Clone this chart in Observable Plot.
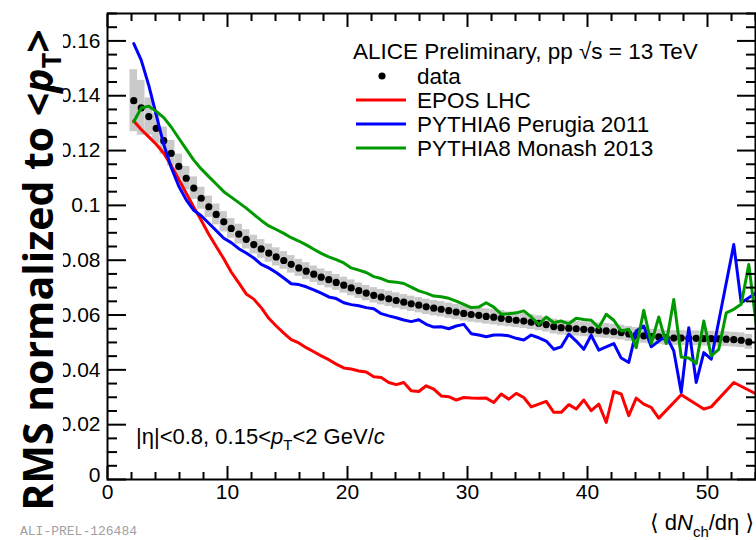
<!DOCTYPE html>
<html>
<head>
<meta charset="utf-8">
<script src="https://cdn.jsdelivr.net/npm/d3@7"></script>
<script src="https://cdn.jsdelivr.net/npm/@observablehq/plot@0.6"></script>
<style>
  body { margin: 0; background: #fff; }
  #chart { width: 756px; height: 540px; overflow: hidden; }
</style>
</head>
<body>
<div id="chart"></div>
<script>
// Multiplicity bins: <dNch/deta> bin centres (bin width 0.625)
const nchBins = [
  2.19, 2.81, 3.44, 4.06, 4.69, 5.31, 5.94, 6.56, 7.19, 7.81,
  8.44, 9.06, 9.69, 10.31, 10.94, 11.56, 12.19, 12.81, 13.44, 14.06,
  14.69, 15.31, 15.94, 16.56, 17.19, 17.81, 18.44, 19.06, 19.69, 20.31,
  20.94, 21.56, 22.19, 22.81, 23.44, 24.06, 24.69, 25.31, 25.94, 26.56,
  27.19, 27.81, 28.44, 29.06, 29.69, 30.31, 30.94, 31.56, 32.19, 32.81,
  33.44, 34.06, 34.69, 35.31, 35.94, 36.56, 37.19, 37.81, 38.44, 39.06,
  39.69, 40.31, 40.94, 41.56, 42.19, 42.81, 43.44, 44.06, 44.69, 45.31,
  45.94, 46.56, 47.19, 47.81, 48.44, 49.06, 49.69, 50.31, 50.94, 51.56,
  52.19, 52.81, 53.44, 54.06
];
const binHalfWidth = 0.3125;

// Measured RMS / <pT>
const dataRms = [
  0.1382, 0.1356, 0.1324, 0.1281, 0.1236, 0.1190, 0.1142, 0.1099, 0.1063, 0.1026,
  0.0995, 0.0967, 0.0940, 0.0916, 0.0895, 0.0876, 0.0857, 0.0841, 0.0826, 0.0812,
  0.0799, 0.0785, 0.0772, 0.0760, 0.0749, 0.0738, 0.0729, 0.0719, 0.0709, 0.0699,
  0.0689, 0.0680, 0.0672, 0.0665, 0.0659, 0.0653, 0.0647, 0.0641, 0.0636, 0.0630,
  0.0625, 0.0621, 0.0616, 0.0611, 0.0606, 0.0602, 0.0599, 0.0595, 0.0592, 0.0588,
  0.0584, 0.0581, 0.0578, 0.0574, 0.0570, 0.0565, 0.0558, 0.0554, 0.0552, 0.0550,
  0.0548, 0.0545, 0.0544, 0.0542, 0.0539, 0.0536, 0.0531, 0.0527, 0.0524, 0.0521,
  0.0520, 0.0517, 0.0516, 0.0516, 0.0515, 0.0515, 0.0514, 0.0514, 0.0513, 0.0512,
  0.0510, 0.0508, 0.0502
];
// Systematic uncertainty (half height of grey boxes)
const dataSyst = [
  0.0113, 0.0100, 0.0068, 0.0056, 0.0050, 0.0047, 0.0045, 0.0043, 0.0041, 0.0040,
  0.0039, 0.0038, 0.0037, 0.0036, 0.0036, 0.0035, 0.0034, 0.0034, 0.0033, 0.0033,
  0.0032, 0.0032, 0.0031, 0.0031, 0.0030, 0.0030, 0.0030, 0.0029, 0.0029, 0.0029,
  0.0028, 0.0028, 0.0028, 0.0028, 0.0028, 0.0028, 0.0028, 0.0028, 0.0028, 0.0028,
  0.0028, 0.0028, 0.0028, 0.0028, 0.0028, 0.0028, 0.0028, 0.0028, 0.0028, 0.0028,
  0.0027, 0.0027, 0.0027, 0.0027, 0.0027, 0.0027, 0.0027, 0.0027, 0.0027, 0.0027,
  0.0027, 0.0027, 0.0027, 0.0027, 0.0027, 0.0027, 0.0027, 0.0027, 0.0027, 0.0027,
  0.0027, 0.0027, 0.0027, 0.0027, 0.0027, 0.0027, 0.0027, 0.0027, 0.0027, 0.0027,
  0.0027, 0.0027, 0.0027
];

// Model predictions (null = empty bin)
const eposLHC = [
  0.1308, 0.1277, 0.1250, 0.1223, 0.1190, 0.1145, 0.1095, 0.1044, 0.0993, 0.0946,
  0.0895, 0.0850, 0.0805, 0.0757, 0.0717, 0.0677, 0.0658, 0.0627, 0.0588, 0.0560,
  0.0534, 0.0510, 0.0498, 0.0481, 0.0466, 0.0451, 0.0437, 0.0421, 0.0407, 0.0403,
  0.0396, 0.0392, 0.0375, 0.0372, 0.0354, 0.0346, 0.0354, 0.0324, 0.0321, 0.0342,
  0.0330, 0.0305, 0.0302, 0.0290, 0.0299, 0.0297, 0.0296, 0.0297, 0.0281, 0.0312,
  0.0293, 0.0314, 0.0299, 0.0265, 0.0275, 0.0285, 0.0245, 0.0245, 0.0273, 0.0257,
  0.0290, 0.0251, 0.0275, 0.0208, 0.0321, 0.0312, 0.0233, 0.0297, 0.0275, 0.0263,
  0.0224, null, null, 0.0309, null, null, 0.0257, 0.0265, null, null,
  0.0354, null, null, 0.0312
];
const pythia6Perugia = [
  0.1590, 0.1530, 0.1438, 0.1330, 0.1222, 0.1138, 0.1070, 0.1020, 0.0982, 0.0962,
  0.0935, 0.0908, 0.0880, 0.0864, 0.0842, 0.0826, 0.0808, 0.0785, 0.0772, 0.0755,
  0.0735, 0.0714, 0.0711, 0.0703, 0.0692, 0.0680, 0.0666, 0.0660, 0.0645, 0.0638,
  0.0634, 0.0627, 0.0623, 0.0605, 0.0597, 0.0590, 0.0582, 0.0576, 0.0583, 0.0566,
  0.0556, 0.0557, 0.0550, 0.0560, 0.0566, 0.0532, 0.0527, 0.0521, 0.0527, 0.0527,
  0.0524, 0.0515, 0.0509, 0.0527, 0.0517, 0.0505, 0.0475, 0.0484, 0.0530, 0.0505,
  0.0475, 0.0526, 0.0472, 0.0484, 0.0496, 0.0443, 0.0427, 0.0542, 0.0560, 0.0484,
  0.0505, 0.0524, 0.0469, 0.0318, 0.0554, 0.0354, 0.0463, 0.0439, 0.0578, null,
  0.0857, 0.0645, 0.0663, 0.0681
];
const pythia8Monash = [
  0.1305, 0.1355, 0.1362, 0.1343, 0.1320, 0.1286, 0.1245, 0.1205, 0.1165, 0.1133,
  0.1105, 0.1078, 0.1050, 0.1030, 0.1010, 0.0990, 0.0967, 0.0945, 0.0925, 0.0912,
  0.0898, 0.0882, 0.0870, 0.0856, 0.0840, 0.0825, 0.0812, 0.0802, 0.0790, 0.0772,
  0.0764, 0.0755, 0.0740, 0.0733, 0.0722, 0.0720, 0.0715, 0.0702, 0.0688, 0.0680,
  0.0669, 0.0667, 0.0661, 0.0651, 0.0639, 0.0627, 0.0629, 0.0645, 0.0629, 0.0603,
  0.0605, 0.0608, 0.0615, 0.0593, 0.0566, 0.0593, 0.0572, 0.0578, 0.0568, 0.0588,
  0.0584, 0.0581, 0.0554, 0.0603, 0.0581, 0.0542, 0.0548, 0.0481, 0.0617, 0.0496,
  0.0593, 0.0496, 0.0657, 0.0447, 0.0443, 0.0423, 0.0578, 0.0451, 0.0475, 0.0608,
  0.0621, 0.0639, 0.0784, 0.0566
];

const seriesNames = ["EPOS LHC", "PYTHIA6 Perugia 2011", "PYTHIA8 Monash 2013"];
const seriesColors = ["#ff0000", "#0000ff", "#009900"];

// Axis ticks
const xMajorTicks = [0, 10, 20, 30, 40, 50];
const xMinorTicks = d3.range(0, 55, 2).filter(v => v % 10 !== 0);
const yMajorTicks = [0, 0.02, 0.04, 0.06, 0.08, 0.1, 0.12, 0.14, 0.16];
const yMinorTicks = d3.range(0, 35).filter(k => k % 4 !== 0).map(k => +(k * 0.005).toFixed(3));

const points = dataRms.map((y, i) => ({x: nchBins[i], y, e: dataSyst[i]}));
const toSeries = vals => nchBins.map((x, i) => ({x, y: vals[i]})).filter(d => d.y != null);
const models = [eposLHC, pythia6Perugia, pythia8Monash].map(toSeries);

const tickStyle = {strokeWidth: 2, label: null};
const fmtY = d => d === 0 ? "0" : String(+d.toFixed(2));

const plot = Plot.plot({
  width: 756,
  height: 540,
  marginLeft: 107,
  marginRight: 1,
  marginTop: 13,
  marginBottom: 61,
  x: {domain: [0, 54], label: null},
  y: {domain: [0, 0.17], label: null},
  style: {
    fontFamily: "'Liberation Sans', Arial, sans-serif",
    fontSize: "21px",
    color: "black",
    background: "white",
    overflow: "visible"
  },
  marks: [
    Plot.rect(points, {
      x1: d => d.x - binHalfWidth, x2: d => d.x + binHalfWidth,
      y1: d => d.y - d.e, y2: d => d.y + d.e,
      fill: "#cacaca"
    }),
    Plot.dot(points, {x: "x", y: "y", r: 3.6, fill: "black"}),
    ...models.map((s, k) => Plot.line(s, {
      x: "x", y: "y", stroke: seriesColors[k], strokeWidth: 3, clip: true
    })),
    Plot.frame({stroke: "black", strokeWidth: 2}),
    // inward ticks on all four sides
    Plot.axisX(xMajorTicks, {anchor: "bottom", tickSize: -13, tickFormat: () => "", ...tickStyle}),
    Plot.axisX(xMinorTicks, {anchor: "bottom", tickSize: -7, tickFormat: () => "", ...tickStyle}),
    Plot.axisX(xMajorTicks, {anchor: "top", tickSize: -13, tickFormat: () => "", ...tickStyle}),
    Plot.axisX(xMinorTicks, {anchor: "top", tickSize: -7, tickFormat: () => "", ...tickStyle}),
    Plot.axisY(yMajorTicks, {anchor: "left", tickSize: -19, tickFormat: () => "", ...tickStyle}),
    Plot.axisY(yMinorTicks, {anchor: "left", tickSize: -10, tickFormat: () => "", ...tickStyle}),
    Plot.axisY(yMajorTicks, {anchor: "right", tickSize: -19, tickFormat: () => "", ...tickStyle}),
    Plot.axisY(yMinorTicks, {anchor: "right", tickSize: -10, tickFormat: () => "", ...tickStyle}),
    // tick labels
    Plot.axisX(xMajorTicks, {anchor: "bottom", tickSize: 0, tickPadding: 5, tickFormat: d => String(d), fontSize: 21, label: null}),
    Plot.axisY(yMajorTicks.filter(v => v > 0), {anchor: "left", tickSize: 0, tickPadding: 7, tickFormat: fmtY, fontSize: 21, label: null}),
    Plot.axisY([0], {anchor: "left", tickSize: 0, tickPadding: 7, dy: -4, tickFormat: fmtY, fontSize: 21, label: null})
  ]
});

document.getElementById("chart").appendChild(plot);

const svg = d3.select(plot);
const sans = "'Liberation Sans', 'DejaVu Sans', Arial, sans-serif";

// Legend
const legend = svg.append("g").attr("text-anchor", "start")
  .style("font-family", sans).style("font-size", "22.5px");
legend.append("text").attr("x", 353).attr("y", 51).attr("dominant-baseline", "central")
  .text("ALICE Preliminary, pp \u221As = 13 TeV");
legend.append("circle").attr("cx", 382).attr("cy", 76).attr("r", 3.6).attr("fill", "black");
legend.append("text").attr("x", 417).attr("y", 76).attr("dominant-baseline", "central").text("data");
seriesNames.forEach((name, k) => {
  const y = 100 + 24 * k;
  legend.append("line").attr("x1", 356).attr("x2", 406).attr("y1", y).attr("y2", y)
    .attr("stroke", seriesColors[k]).attr("stroke-width", 3);
  legend.append("text").attr("x", 417).attr("y", y).attr("dominant-baseline", "central").text(name);
});

// Kinematic cuts
const cuts = svg.append("text").attr("x", 136).attr("y", 444).attr("text-anchor", "start")
  .style("font-family", sans).style("font-size", "22px");
cuts.append("tspan").text("|\u03B7|<0.8, 0.15<");
cuts.append("tspan").style("font-style", "italic").text("p");
cuts.append("tspan").attr("dy", 6).style("font-size", "15px").text("T");
cuts.append("tspan").attr("dy", -6).text("<2 GeV/");
cuts.append("tspan").style("font-style", "italic").text("c");

// x-axis title
const xt = svg.append("text").attr("x", 754).attr("y", 530).attr("text-anchor", "end")
  .style("font-family", sans).style("font-size", "22px");
xt.append("tspan").text("\u27E8 d");
xt.append("tspan").style("font-style", "italic").text("N");
xt.append("tspan").attr("dy", 7).style("font-size", "15px").text("ch");
xt.append("tspan").attr("dy", -7).text("/d\u03B7 \u27E9");

// y-axis title on a white strip
const yg = svg.append("g");
yg.append("rect").attr("x", 0).attr("y", 0).attr("width", 63).attr("height", 527).attr("fill", "white");
const yt = yg.append("text").attr("transform", "translate(53,270) rotate(-90)")
  .attr("text-anchor", "middle")
  .style("font-family", "'Open Sans', 'DejaVu Sans', sans-serif")
  .style("font-weight", 700).style("font-size", "41px");
yt.append("tspan").text("RMS normalized to <");
yt.append("tspan").style("font-style", "italic").text("p");
yt.append("tspan").attr("dy", 8).style("font-size", "27px").text("T");
yt.append("tspan").attr("dy", -8).text(">");

// Preliminary figure reference
svg.append("text").attr("x", 20).attr("y", 535).attr("text-anchor", "start")
  .style("font-family", "'Liberation Mono', 'DejaVu Sans Mono', monospace")
  .style("font-size", "13px").attr("fill", "#a0a0a0").text("ALI-PREL-126484");
</script>
</body>
</html>
